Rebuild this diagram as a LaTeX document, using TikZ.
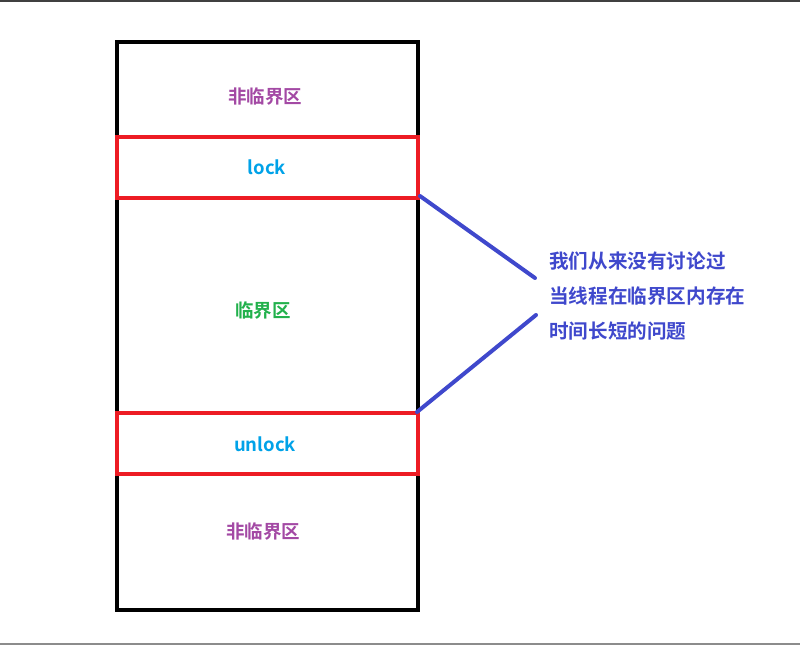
\documentclass[tikz,border=0pt]{standalone}
\usepackage{fontspec}
\setmainfont{Noto Sans CJK SC}
\newfontfamily\cjkb{Noto Sans CJK SC Bold}
\definecolor{boxred}{HTML}{ED1C24}
\definecolor{lockblue}{HTML}{00A2E8}
\definecolor{ncpurple}{HTML}{A349A4}
\definecolor{csgreen}{HTML}{22B14C}
\definecolor{noteblue}{HTML}{3F48CC}
\tikzset{
  outerbox/.style={draw=black, line width=4pt},
  redbox/.style={draw=boxred, line width=4pt},
  lbl/.style={font=\cjkb\fontsize{18.5}{22}\selectfont, inner sep=0pt, anchor=center},
  link/.style={draw=noteblue, line width=4pt, line cap=round},
}
\begin{document}
\begin{tikzpicture}[x=1pt,y=-1pt]
\useasboundingbox (0,0) rectangle (800,646);
\draw[draw=black!75, line width=1.5pt] (0,0.75) -- (800,0.75);
\draw[draw=black!45, line width=1.5pt] (0,644) -- (800,644);
\coordinate (otl) at (117,42);
\coordinate (obr) at (418,610);
\draw[outerbox] (otl) rectangle (obr);
\coordinate (ltl) at (117,137);
\coordinate (lbr) at (418,198);
\draw[redbox] (ltl) rectangle (lbr);
\coordinate (utl) at (117,413);
\coordinate (ubr) at (418,474);
\draw[redbox] (utl) rectangle (ubr);
\node[lbl, text=ncpurple] (nc1) at (265,96) {非临界区};
\node[lbl, text=lockblue] (lock) at (267,167) {lock};
\node[lbl, text=csgreen] (cs) at (263,310) {临界区};
\node[lbl, text=lockblue] (unlock) at (265,444) {unlock};
\node[lbl, text=ncpurple] (nc2) at (263,531) {非临界区};
\node[font=\cjkb\fontsize{19.6}{35}\selectfont, text=noteblue, align=left, inner sep=0pt, anchor=north west] (note) at (549,252) {我们从来没有讨论过\\当线程在临界区内存在\\时间长短的问题};
\coordinate (a1) at (420,196);
\coordinate (a2) at (535,278);
\coordinate (b1) at (536,315);
\coordinate (b2) at (417,412);
\draw[link] (a1) -- (a2);
\draw[link] (b1) -- (b2);
\end{tikzpicture}
\end{document}
